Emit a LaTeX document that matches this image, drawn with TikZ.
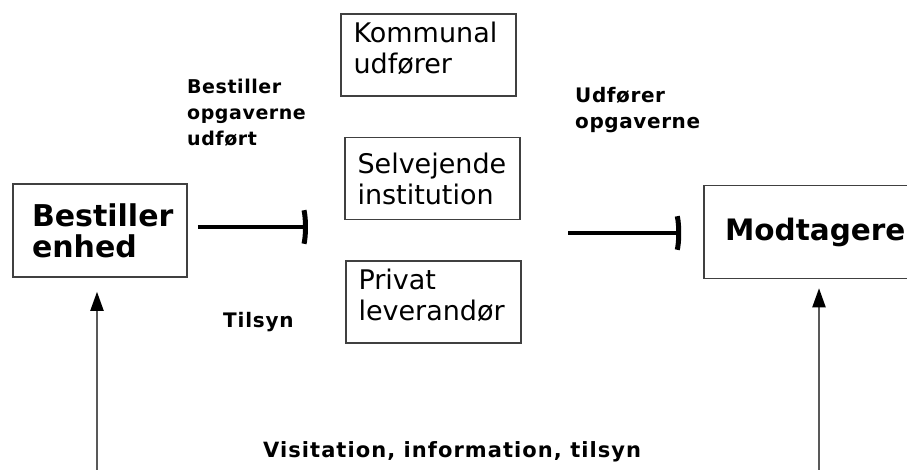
\documentclass[tikz,border=0pt]{standalone}
\usepackage{fontspec}
\setmainfont{DejaVu Sans}
\usetikzlibrary{positioning, arrows.meta}

\begin{document}
\begin{tikzpicture}[
            x=1pt, y=-1pt,
            unit/.style={
                rectangle,
                draw=black!75,
                line width=1.5pt,
                minimum width=175pt,
                minimum height=82pt,
                inner xsep=12.5pt,
                text width=150pt,
                align=left,
                font=\fontsize{27}{31}\selectfont
            },
            party/.style={
                rectangle,
                draw=black!75,
                line width=1.5pt,
                minimum height=93pt,
                align=left,
                font=\fontsize{30}{31}\selectfont\bfseries
            },
            note/.style={
                inner sep=0pt,
                align=left,
                font=\fontsize{19}{26}\selectfont\bfseries\addfontfeature{LetterSpace=3}
            },
            bar/.style={
                -{Arc Barb[arc=110,width=46pt,length=6pt,line width=5pt]},
                line width=4pt
            },
            up/.style={
                -{Triangle[width=13pt,length=19pt,color=black]},
                line width=2pt,
                draw=black!65
            }
        ]
            \useasboundingbox (0,0) rectangle (907,470);

            \node [party, minimum width=174pt, inner xsep=19pt, text width=136pt] (best) at (100,230.5) {Bestiller\\enhed};
            \node [party, minimum width=230pt, text width=188pt, font=\fontsize{29.5}{31}\selectfont\bfseries] (mod) at (819,232) {Modtagere};

            \node [unit] (kom) at (428.5,55) {Kommunal\\udfører\rule[-14pt]{0pt}{0pt}};
            \node [unit, below=40pt of kom, xshift=4pt] (sel) {Selvejende\\institution};
            \node [unit, below=40pt of sel, xshift=1pt] (pri) {Privat\\leverandør\rule[-14pt]{0pt}{0pt}};

            \node [note, anchor=west] (order) at (187,113) {Bestiller\\opgaverne\\udført};
            \node [note, anchor=west, font=\fontsize{20}{26}\selectfont\bfseries\addfontfeature{LetterSpace=3}] (does) at (575,110) {Udfører\\opgaverne};
            \node [note, anchor=base west, font=\fontsize{20}{24}\selectfont\bfseries\addfontfeature{LetterSpace=4}] (watch) at (223,327) {Tilsyn};
            \node [note, anchor=base west, font=\fontsize{21}{24}\selectfont\bfseries\addfontfeature{LetterSpace=5}] (visit) at (263,457) {Visitation, information, tilsyn};

            \coordinate (mid1) at (308,227);
            \coordinate (mid2) at (568,233);
            \coordinate (foot1) at (97,470);
            \coordinate (foot2) at (819,470);

            \draw [bar, shorten <=10pt] (best.east |- mid1) -- (mid1);
            \draw [bar, shorten >=22pt] (mid2) -- (mod.west |- mid2);

            \draw [up, shorten >=14pt] (foot1) -- (best.south -| foot1);
            \draw [up, shorten >=9pt] (foot2) -- (mod.south -| foot2);

        \end{tikzpicture}
\end{document}
